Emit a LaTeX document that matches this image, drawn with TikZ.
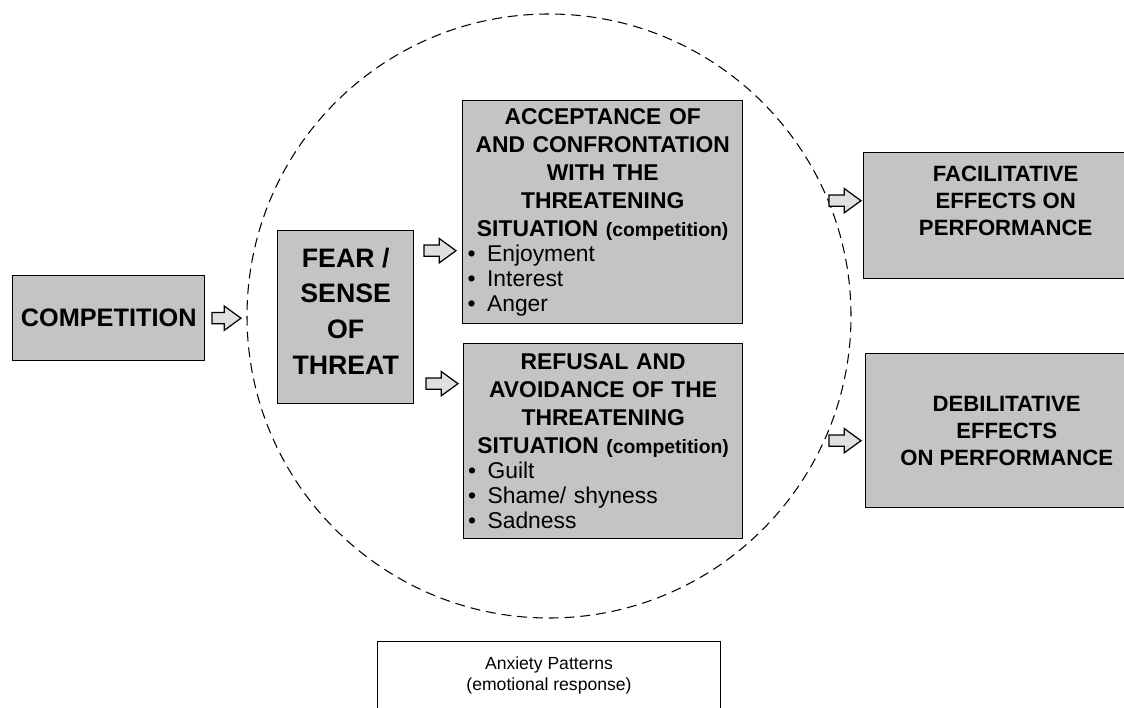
\documentclass[tikz,border=0pt]{standalone}
\usepackage{fontspec}
\setmainfont{Liberation Sans}
\usetikzlibrary{positioning,shapes.arrows}
\newcommand{\itm}[1]{\makebox[\linewidth][l]{\mdseries\textbullet\hspace{0.5em}#1}}
\newcommand{\cmpt}{{\fontsize{11}{13}\selectfont(competition)}}

\begin{document}
\begin{tikzpicture}[
      x=0.02cm, y=0.02cm,
      greybox/.style={draw,line width=0.8pt,fill=black!23,inner sep=2pt,anchor=north west},
      blockarrow/.style={single arrow,draw,line width=0.7pt,fill=black!12,inner xsep=0pt,
        inner ysep=0.1cm,minimum width=0.46cm,single arrow head extend=0.13cm,
        single arrow tip angle=72,minimum height=0.64cm},
      bigtxt/.style={font=\fontsize{15.2}{20.4}\selectfont\bfseries,align=center},
      listtxt/.style={font=\fontsize{13}{16}\selectfont\bfseries,align=center,text width=5.4cm},
      efftxt/.style={font=\fontsize{12.6}{15.4}\selectfont\bfseries,align=center},
      circ/.style={line width=0.6pt,dash pattern=on 5.6pt off 3.4pt}
      ]
      \useasboundingbox (0,0) rectangle (1124,707);
      \clip (0,0) rectangle (1124,707);
      \draw[circ] (549,391) circle[radius=302];
      \node[greybox,bigtxt,font=\fontsize{14.4}{17}\selectfont\bfseries,inner xsep=1pt,
        minimum width=3.84cm,minimum height=1.7cm] (comp) at (12,432) {COMPETITION};
      \node[greybox,minimum width=2.72cm,minimum height=3.46cm] (fear) at (277,477) {};
      \node[bigtxt] (fearT) at ([yshift=0.12cm]fear.center) {FEAR /\\SENSE\\OF\\THREAT};
      \node[greybox,listtxt,minimum width=5.6cm,minimum height=4.46cm] (acc) at (462,607)
        {ACCEPTANCE OF\\AND CONFRONTATION\\WITH THE\\THREATENING\\SITUATION \cmpt\\[-1.8pt]
         \itm{Enjoyment}\\[-1.8pt] \itm{Interest}\\[-1.8pt] \itm{Anger}};
      \node[greybox,listtxt,minimum width=5.58cm,minimum height=3.9cm] (ref) at (463,364)
        {REFUSAL AND\\AVOIDANCE OF THE\\THREATENING\\SITUATION \cmpt\\[-1.8pt]
         \itm{Guilt}\\[-1.8pt] \itm{Shame/ shyness}\\[-1.8pt] \itm{Sadness}};
      \node[greybox,minimum width=5.68cm,minimum height=2.52cm] (fac) at (863,555) {};
      \node[efftxt] (facT) at ([yshift=0.3cm]fac.center) {FACILITATIVE\\EFFECTS ON\\PERFORMANCE};
      \node[greybox,efftxt,minimum width=5.64cm,minimum height=3.08cm] (deb) at (865,354) {DEBILITATIVE\\EFFECTS\\ON PERFORMANCE};
      \node[draw,line width=0.6pt,fill=white,anchor=north west,minimum width=6.86cm,minimum height=1.36cm,
        font=\fontsize{10}{11.5}\selectfont,align=center] (legend) at (377,66) {Anxiety Patterns\\(emotional response)};
      \node[blockarrow,minimum height=0.58cm,right=0.12cm of comp] (a1) {};
      \node[blockarrow,anchor=west] (a2) at ([shift={(0.18cm,1.33cm)}]fear.east) {};
      \node[blockarrow,anchor=west] (a3) at ([shift={(0.22cm,-1.33cm)}]fear.east) {};
      \node[blockarrow,anchor=tip] (a4) at ([shift={(-0.02cm,0.3cm)}]fac.west) {};
      \node[blockarrow,anchor=tip] (a5) at ([shift={(-0.06cm,-0.2cm)}]deb.west) {};
    \end{tikzpicture}
\end{document}
